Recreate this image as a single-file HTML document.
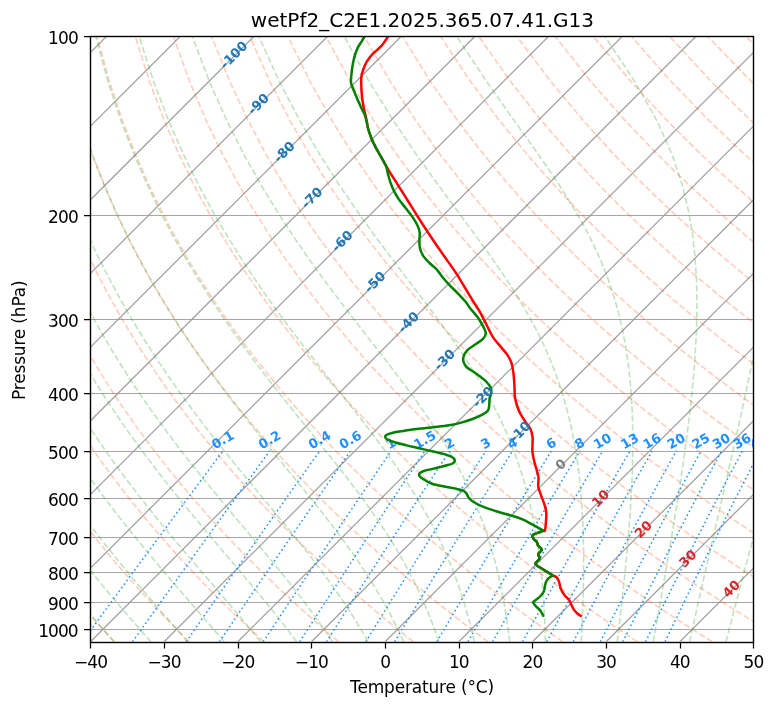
<!DOCTYPE html>
<html><head><meta charset="utf-8"><title>wetPf2_C2E1.2025.365.07.41.G13</title>
<style>html,body{margin:0;padding:0;background:#fff;width:775px;height:708px;overflow:hidden}svg{display:block}text{white-space:pre}</style>
</head><body>
<svg width="775" height="708" viewBox="0 0 775 708" style="position:absolute;left:0;top:0">
<rect width="775" height="708" fill="#fff"/>
<defs><clipPath id="c"><rect x="90.45" y="36.2" width="663.0" height="605.5999999999999"/></clipPath></defs>
<g clip-path="url(#c)" fill="none">
<path d="M90.45 36.50H753.45" stroke="#a6a6a6" stroke-width="1.1"/>
<path d="M90.45 215.50H753.45" stroke="#a6a6a6" stroke-width="1.1"/>
<path d="M90.45 319.50H753.45" stroke="#a6a6a6" stroke-width="1.1"/>
<path d="M90.45 393.50H753.45" stroke="#a6a6a6" stroke-width="1.1"/>
<path d="M90.45 451.50H753.45" stroke="#a6a6a6" stroke-width="1.1"/>
<path d="M90.45 498.50H753.45" stroke="#a6a6a6" stroke-width="1.1"/>
<path d="M90.45 537.50H753.45" stroke="#a6a6a6" stroke-width="1.1"/>
<path d="M90.45 572.50H753.45" stroke="#a6a6a6" stroke-width="1.1"/>
<path d="M90.45 602.50H753.45" stroke="#a6a6a6" stroke-width="1.1"/>
<path d="M90.45 629.50H753.45" stroke="#a6a6a6" stroke-width="1.1"/>
<path d="M-572.55 641.80 L33.05 36.20M-498.88 641.80 L106.72 36.20M-425.22 641.80 L180.38 36.20M-351.55 641.80 L254.05 36.20M-277.88 641.80 L327.72 36.20M-204.22 641.80 L401.38 36.20M-130.55 641.80 L475.05 36.20M-56.88 641.80 L548.72 36.20M16.78 641.80 L622.38 36.20M90.45 641.80 L696.05 36.20M164.12 641.80 L769.72 36.20M237.78 641.80 L843.38 36.20M311.45 641.80 L917.05 36.20M385.12 641.80 L990.72 36.20M458.78 641.80 L1064.38 36.20M532.45 641.80 L1138.05 36.20M606.12 641.80 L1211.72 36.20M679.78 641.80 L1285.38 36.20M753.45 641.80 L1359.05 36.20" stroke="#999999" stroke-width="1.3" stroke-opacity="0.9"/>
<path d="M114.56 641.80 L110.11 637.00 L105.63 632.11 L101.11 627.12 L96.56 622.04 L91.97 616.85 L87.34 611.56 L82.68 606.15 L77.98 600.63 L73.24 594.99 L68.46 589.23 L63.64 583.33 L58.78 577.29 L53.88 571.11 L48.94 564.77 L43.96 558.28 L38.93 551.61 L33.86 544.77 L28.74 537.75 L23.58 530.52 L18.37 523.09 L13.12 515.44 L7.82 507.55 L2.47 499.42 L-2.92 491.01 L-8.37 482.33 L-13.86 473.34 L-19.39 464.03 L-24.98 454.37 L-30.60 444.33 L-36.28 433.88 L-41.99 422.99 L-47.75 411.62 L-53.54 399.73 L-59.36 387.26 L-65.21 374.16 L-71.07 360.35 L-76.95 345.76 L-82.81 330.29 L-88.66 313.84 L-94.45 296.26 L-100.18 277.40 L-105.78 257.04 L-111.20 234.93 L-116.38 210.75 L-121.19 184.06 L-125.47 154.28 L-128.98 120.60 L-131.33 81.84 L-131.89 36.20M189.26 641.80 L184.41 637.00 L179.53 632.11 L174.60 627.12 L169.64 622.04 L164.63 616.85 L159.58 611.56 L154.48 606.15 L149.34 600.63 L144.16 594.99 L138.93 589.23 L133.65 583.33 L128.33 577.29 L122.95 571.11 L117.53 564.77 L112.05 558.28 L106.52 551.61 L100.94 544.77 L95.30 537.75 L89.61 530.52 L83.86 523.09 L78.05 515.44 L72.18 507.55 L66.26 499.42 L60.27 491.01 L54.22 482.33 L48.11 473.34 L41.94 464.03 L35.70 454.37 L29.40 444.33 L23.04 433.88 L16.61 422.99 L10.12 411.62 L3.57 399.73 L-3.04 387.26 L-9.70 374.16 L-16.41 360.35 L-23.16 345.76 L-29.94 330.29 L-36.74 313.84 L-43.54 296.26 L-50.31 277.40 L-57.03 257.04 L-63.64 234.93 L-70.07 210.75 L-76.23 184.06 L-81.97 154.28 L-87.08 120.60 L-91.20 81.84 L-93.74 36.20M263.96 641.80 L258.72 637.00 L253.43 632.11 L248.10 627.12 L242.72 622.04 L237.29 616.85 L231.81 611.56 L226.29 606.15 L220.71 600.63 L215.08 594.99 L209.40 589.23 L203.66 583.33 L197.87 577.29 L192.02 571.11 L186.11 564.77 L180.14 558.28 L174.11 551.61 L168.01 544.77 L161.86 537.75 L155.63 530.52 L149.34 523.09 L142.98 515.44 L136.55 507.55 L130.04 499.42 L123.47 491.01 L116.81 482.33 L110.08 473.34 L103.27 464.03 L96.38 454.37 L89.41 444.33 L82.35 433.88 L75.21 422.99 L67.99 411.62 L60.68 399.73 L53.29 387.26 L45.81 374.16 L38.26 360.35 L30.63 345.76 L22.94 330.29 L15.18 313.84 L7.38 296.26 L-0.45 277.40 L-8.28 257.04 L-16.07 234.93 L-23.76 210.75 L-31.27 184.06 L-38.48 154.28 L-45.18 120.60 L-51.06 81.84 L-55.58 36.20M338.66 641.80 L333.02 637.00 L327.33 632.11 L321.59 627.12 L315.80 622.04 L309.95 616.85 L304.05 611.56 L298.09 606.15 L292.08 600.63 L286.00 594.99 L279.87 589.23 L273.67 583.33 L267.41 577.29 L261.08 571.11 L254.69 564.77 L248.23 558.28 L241.70 551.61 L235.09 544.77 L228.41 537.75 L221.66 530.52 L214.82 523.09 L207.91 515.44 L200.91 507.55 L193.83 499.42 L186.66 491.01 L179.40 482.33 L172.05 473.34 L164.60 464.03 L157.05 454.37 L149.41 444.33 L141.66 433.88 L133.81 422.99 L125.85 411.62 L117.79 399.73 L109.61 387.26 L101.33 374.16 L92.93 360.35 L84.42 345.76 L75.81 330.29 L67.10 313.84 L58.29 296.26 L49.41 277.40 L40.47 257.04 L31.50 234.93 L22.55 210.75 L13.68 184.06 L5.02 154.28 L-3.28 120.60 L-10.92 81.84 L-17.43 36.20M413.36 641.80 L407.33 637.00 L401.24 632.11 L395.09 627.12 L388.88 622.04 L382.61 616.85 L376.29 611.56 L369.90 606.15 L363.44 600.63 L356.92 594.99 L350.34 589.23 L343.68 583.33 L336.95 577.29 L330.15 571.11 L323.27 564.77 L316.32 558.28 L309.29 551.61 L302.17 544.77 L294.97 537.75 L287.68 530.52 L280.31 523.09 L272.84 515.44 L265.28 507.55 L257.62 499.42 L249.85 491.01 L241.99 482.33 L234.01 473.34 L225.93 464.03 L217.73 454.37 L209.42 444.33 L200.98 433.88 L192.41 422.99 L183.72 411.62 L174.90 399.73 L165.94 387.26 L156.84 374.16 L147.60 360.35 L138.21 345.76 L128.68 330.29 L119.02 313.84 L109.21 296.26 L99.27 277.40 L89.21 257.04 L79.06 234.93 L68.85 210.75 L58.64 184.06 L48.51 154.28 L38.62 120.60 L29.21 81.84 L20.73 36.20M488.06 641.80 L481.63 637.00 L475.14 632.11 L468.58 627.12 L461.96 622.04 L455.28 616.85 L448.52 611.56 L441.70 606.15 L434.81 600.63 L427.84 594.99 L420.80 589.23 L413.69 583.33 L406.49 577.29 L399.22 571.11 L391.86 564.77 L384.41 558.28 L376.87 551.61 L369.25 544.77 L361.53 537.75 L353.71 530.52 L345.79 523.09 L337.77 515.44 L329.64 507.55 L321.40 499.42 L313.05 491.01 L304.58 482.33 L295.98 473.34 L287.26 464.03 L278.41 454.37 L269.42 444.33 L260.29 433.88 L251.01 422.99 L241.59 411.62 L232.00 399.73 L222.26 387.26 L212.35 374.16 L202.26 360.35 L192.00 345.76 L181.56 330.29 L170.93 313.84 L160.12 296.26 L149.13 277.40 L137.96 257.04 L126.63 234.93 L115.16 210.75 L103.60 184.06 L92.01 154.28 L80.52 120.60 L69.35 81.84 L58.88 36.20M562.76 641.80 L555.94 637.00 L549.04 632.11 L542.08 627.12 L535.04 622.04 L527.94 616.85 L520.76 611.56 L513.51 606.15 L506.18 600.63 L498.76 594.99 L491.27 589.23 L483.70 583.33 L476.03 577.29 L468.28 571.11 L460.44 564.77 L452.50 558.28 L444.46 551.61 L436.33 544.77 L428.08 537.75 L419.74 530.52 L411.28 523.09 L402.70 515.44 L394.01 507.55 L385.19 499.42 L376.24 491.01 L367.17 482.33 L357.95 473.34 L348.59 464.03 L339.09 454.37 L329.42 444.33 L319.60 433.88 L309.62 422.99 L299.45 411.62 L289.11 399.73 L278.58 387.26 L267.86 374.16 L256.93 360.35 L245.79 345.76 L234.43 330.29 L222.85 313.84 L211.04 296.26 L198.99 277.40 L186.71 257.04 L174.20 234.93 L161.47 210.75 L148.55 184.06 L135.51 154.28 L122.42 120.60 L109.49 81.84 L97.04 36.20M637.47 641.80 L630.24 637.00 L622.94 632.11 L615.57 627.12 L608.12 622.04 L600.60 616.85 L593.00 611.56 L585.31 606.15 L577.54 600.63 L569.69 594.99 L561.74 589.23 L553.71 583.33 L545.58 577.29 L537.35 571.11 L529.02 564.77 L520.59 558.28 L512.05 551.61 L503.40 544.77 L494.64 537.75 L485.76 530.52 L476.76 523.09 L467.63 515.44 L458.37 507.55 L448.97 499.42 L439.44 491.01 L429.75 482.33 L419.92 473.34 L409.92 464.03 L399.76 454.37 L389.43 444.33 L378.92 433.88 L368.22 422.99 L357.32 411.62 L346.22 399.73 L334.91 387.26 L323.37 374.16 L311.60 360.35 L299.58 345.76 L287.31 330.29 L274.77 313.84 L261.95 296.26 L248.85 277.40 L235.46 257.04 L221.76 234.93 L207.78 210.75 L193.51 184.06 L179.00 154.28 L164.32 120.60 L149.63 81.84 L135.19 36.20M712.17 641.80 L704.54 637.00 L696.84 632.11 L689.06 627.12 L681.20 622.04 L673.26 616.85 L665.23 611.56 L657.11 606.15 L648.91 600.63 L640.61 594.99 L632.21 589.23 L623.71 583.33 L615.12 577.29 L606.41 571.11 L597.60 564.77 L588.68 558.28 L579.64 551.61 L570.48 544.77 L561.20 537.75 L551.79 530.52 L542.24 523.09 L532.56 515.44 L522.74 507.55 L512.76 499.42 L502.63 491.01 L492.34 482.33 L481.89 473.34 L471.25 464.03 L460.44 454.37 L449.43 444.33 L438.23 433.88 L426.82 422.99 L415.19 411.62 L403.33 399.73 L391.23 387.26 L378.88 374.16 L366.26 360.35 L353.37 345.76 L340.18 330.29 L326.69 313.84 L312.87 296.26 L298.71 277.40 L284.20 257.04 L269.33 234.93 L254.08 210.75 L238.47 184.06 L222.50 154.28 L206.22 120.60 L189.76 81.84 L173.35 36.20M786.87 641.80 L778.85 637.00 L770.75 632.11 L762.56 627.12 L754.29 622.04 L745.92 616.85 L737.47 611.56 L728.92 606.15 L720.27 600.63 L711.53 594.99 L702.68 589.23 L693.72 583.33 L684.66 577.29 L675.48 571.11 L666.19 564.77 L656.77 558.28 L647.23 551.61 L637.56 544.77 L627.76 537.75 L617.81 530.52 L607.73 523.09 L597.49 515.44 L587.10 507.55 L576.55 499.42 L565.83 491.01 L554.93 482.33 L543.85 473.34 L532.58 464.03 L521.12 454.37 L509.44 444.33 L497.54 433.88 L485.42 422.99 L473.06 411.62 L460.44 399.73 L447.55 387.26 L434.39 374.16 L420.93 360.35 L407.16 345.76 L393.06 330.29 L378.61 313.84 L363.78 296.26 L348.57 277.40 L332.95 257.04 L316.90 234.93 L300.39 210.75 L283.42 184.06 L265.99 154.28 L248.12 120.60 L229.90 81.84 L211.51 36.20M861.57 641.80 L853.15 637.00 L844.65 632.11 L836.05 627.12 L827.37 622.04 L818.58 616.85 L809.70 611.56 L800.72 606.15 L791.64 600.63 L782.45 594.99 L773.15 589.23 L763.73 583.33 L754.20 577.29 L744.55 571.11 L734.77 564.77 L724.86 558.28 L714.82 551.61 L704.64 544.77 L694.31 537.75 L683.84 530.52 L673.21 523.09 L662.42 515.44 L651.46 507.55 L640.33 499.42 L629.02 491.01 L617.52 482.33 L605.82 473.34 L593.91 464.03 L581.79 454.37 L569.44 444.33 L556.86 433.88 L544.02 422.99 L530.92 411.62 L517.55 399.73 L503.88 387.26 L489.90 374.16 L475.60 360.35 L460.95 345.76 L445.93 330.29 L430.52 313.84 L414.70 296.26 L398.43 277.40 L381.70 257.04 L364.46 234.93 L346.70 210.75 L328.38 184.06 L309.49 154.28 L290.03 120.60 L270.04 81.84 L249.66 36.20M936.27 641.80 L927.46 637.00 L918.55 632.11 L909.55 627.12 L900.45 622.04 L891.25 616.85 L881.94 611.56 L872.53 606.15 L863.01 600.63 L853.37 594.99 L843.62 589.23 L833.74 583.33 L823.74 577.29 L813.61 571.11 L803.35 564.77 L792.95 558.28 L782.41 551.61 L771.72 544.77 L760.87 537.75 L749.86 530.52 L738.69 523.09 L727.35 515.44 L715.83 507.55 L704.12 499.42 L692.22 491.01 L680.11 482.33 L667.79 473.34 L655.25 464.03 L642.47 454.37 L629.45 444.33 L616.17 433.88 L602.62 422.99 L588.79 411.62 L574.65 399.73 L560.20 387.26 L545.41 374.16 L530.27 360.35 L514.74 345.76 L498.81 330.29 L482.44 313.84 L465.62 296.26 L448.30 277.40 L430.45 257.04 L412.03 234.93 L393.01 210.75 L373.33 184.06 L352.98 154.28 L331.93 120.60 L310.17 81.84 L287.82 36.20M1010.97 641.80 L1001.76 637.00 L992.45 632.11 L983.04 627.12 L973.53 622.04 L963.91 616.85 L954.18 611.56 L944.33 606.15 L934.37 600.63 L924.29 594.99 L914.08 589.23 L903.75 583.33 L893.28 577.29 L882.68 571.11 L871.93 564.77 L861.04 558.28 L850.00 551.61 L838.79 544.77 L827.43 537.75 L815.89 530.52 L804.18 523.09 L792.28 515.44 L780.19 507.55 L767.91 499.42 L755.41 491.01 L742.70 482.33 L729.76 473.34 L716.58 464.03 L703.15 454.37 L689.45 444.33 L675.48 433.88 L661.22 422.99 L646.66 411.62 L631.76 399.73 L616.53 387.26 L600.92 374.16 L584.93 360.35 L568.53 345.76 L551.68 330.29 L534.36 313.84 L516.53 296.26 L498.16 277.40 L479.19 257.04 L459.60 234.93 L439.31 210.75 L418.29 184.06 L396.48 154.28 L373.83 120.60 L350.31 81.84 L325.97 36.20M1085.67 641.80 L1076.06 637.00 L1066.35 632.11 L1056.54 627.12 L1046.61 622.04 L1036.57 616.85 L1026.41 611.56 L1016.14 606.15 L1005.74 600.63 L995.21 594.99 L984.55 589.23 L973.76 583.33 L962.82 577.29 L951.75 571.11 L940.52 564.77 L929.13 558.28 L917.58 551.61 L905.87 544.77 L893.98 537.75 L881.92 530.52 L869.66 523.09 L857.21 515.44 L844.56 507.55 L831.69 499.42 L818.60 491.01 L805.29 482.33 L791.72 473.34 L777.91 464.03 L763.82 454.37 L749.46 444.33 L734.80 433.88 L719.83 422.99 L704.52 411.62 L688.87 399.73 L672.85 387.26 L656.43 374.16 L639.60 360.35 L622.32 345.76 L604.55 330.29 L586.28 313.84 L567.45 296.26 L548.02 277.40 L527.94 257.04 L507.16 234.93 L485.62 210.75 L463.25 184.06 L439.97 154.28 L415.73 120.60 L390.45 81.84 L364.13 36.20M1160.37 641.80 L1150.37 637.00 L1140.26 632.11 L1130.03 627.12 L1119.69 622.04 L1109.23 616.85 L1098.65 611.56 L1087.94 606.15 L1077.10 600.63 L1066.13 594.99 L1055.02 589.23 L1043.77 583.33 L1032.37 577.29 L1020.81 571.11 L1009.10 564.77 L997.22 558.28 L985.17 551.61 L972.95 544.77 L960.54 537.75 L947.94 530.52 L935.15 523.09 L922.14 515.44 L908.92 507.55 L895.48 499.42 L881.80 491.01 L867.87 482.33 L853.69 473.34 L839.24 464.03 L824.50 454.37 L809.46 444.33 L794.11 433.88 L778.43 422.99 L762.39 411.62 L745.98 399.73 L729.17 387.26 L711.95 374.16 L694.27 360.35 L676.11 345.76 L657.43 330.29 L638.20 313.84 L618.36 296.26 L597.88 277.40 L576.69 257.04 L554.73 234.93 L531.93 210.75 L508.20 184.06 L483.47 154.28 L457.63 120.60 L430.59 81.84 L402.28 36.20M1235.07 641.80 L1224.67 637.00 L1214.16 632.11 L1203.52 627.12 L1192.77 622.04 L1181.89 616.85 L1170.89 611.56 L1159.75 606.15 L1148.47 600.63 L1137.05 594.99 L1125.49 589.23 L1113.78 583.33 L1101.91 577.29 L1089.88 571.11 L1077.68 564.77 L1065.31 558.28 L1052.76 551.61 L1040.03 544.77 L1027.10 537.75 L1013.97 530.52 L1000.63 523.09 L987.07 515.44 L973.29 507.55 L959.26 499.42 L944.99 491.01 L930.46 482.33 L915.66 473.34 L900.57 464.03 L885.18 454.37 L869.47 444.33 L853.42 433.88 L837.03 422.99 L820.26 411.62 L803.09 399.73 L785.50 387.26 L767.46 374.16 L748.93 360.35 L729.90 345.76 L710.30 330.29 L690.11 313.84 L669.28 296.26 L647.74 277.40 L625.44 257.04 L602.30 234.93 L578.24 210.75 L553.16 184.06 L526.96 154.28 L499.53 120.60 L470.72 81.84 L440.44 36.20M1309.77 641.80 L1298.98 637.00 L1288.06 632.11 L1277.02 627.12 L1265.85 622.04 L1254.55 616.85 L1243.12 611.56 L1231.55 606.15 L1219.84 600.63 L1207.97 594.99 L1195.96 589.23 L1183.79 583.33 L1171.45 577.29 L1158.94 571.11 L1146.26 564.77 L1133.40 558.28 L1120.35 551.61 L1107.10 544.77 L1093.66 537.75 L1079.99 530.52 L1066.11 523.09 L1052.00 515.44 L1037.65 507.55 L1023.05 499.42 L1008.19 491.01 L993.05 482.33 L977.63 473.34 L961.90 464.03 L945.85 454.37 L929.47 444.33 L912.74 433.88 L895.63 422.99 L878.12 411.62 L860.20 399.73 L841.82 387.26 L822.97 374.16 L803.60 360.35 L783.69 345.76 L763.18 330.29 L742.03 313.84 L720.19 296.26 L697.60 277.40 L674.18 257.04 L649.86 234.93 L624.54 210.75 L598.12 184.06 L570.46 154.28 L541.43 120.60 L510.86 81.84 L478.59 36.20M1384.47 641.80 L1373.28 637.00 L1361.96 632.11 L1350.51 627.12 L1338.93 622.04 L1327.22 616.85 L1315.36 611.56 L1303.36 606.15 L1291.20 600.63 L1278.89 594.99 L1266.43 589.23 L1253.79 583.33 L1240.99 577.29 L1228.01 571.11 L1214.85 564.77 L1201.49 558.28 L1187.94 551.61 L1174.18 544.77 L1160.21 537.75 L1146.02 530.52 L1131.60 523.09 L1116.93 515.44 L1102.02 507.55 L1086.84 499.42 L1071.38 491.01 L1055.64 482.33 L1039.59 473.34 L1023.23 464.03 L1006.53 454.37 L989.48 444.33 L972.05 433.88 L954.23 422.99 L935.99 411.62 L917.30 399.73 L898.14 387.26 L878.48 374.16 L858.27 360.35 L837.47 345.76 L816.05 330.29 L793.95 313.84 L771.11 296.26 L747.46 277.40 L722.93 257.04 L697.43 234.93 L670.85 210.75 L643.07 184.06 L613.96 154.28 L583.33 120.60 L551.00 81.84 L516.75 36.20M1459.17 641.80 L1447.58 637.00 L1435.86 632.11 L1424.01 627.12 L1412.01 622.04 L1399.88 616.85 L1387.59 611.56 L1375.16 606.15 L1362.57 600.63 L1349.82 594.99 L1336.90 589.23 L1323.80 583.33 L1310.53 577.29 L1297.08 571.11 L1283.43 564.77 L1269.58 558.28 L1255.53 551.61 L1241.26 544.77 L1226.77 537.75 L1212.05 530.52 L1197.08 523.09 L1181.86 515.44 L1166.38 507.55 L1150.62 499.42 L1134.58 491.01 L1118.23 482.33 L1101.56 473.34 L1084.56 464.03 L1067.21 454.37 L1049.48 444.33 L1031.36 433.88 L1012.83 422.99 L993.86 411.62 L974.41 399.73 L954.47 387.26 L933.99 374.16 L912.94 360.35 L891.26 345.76 L868.93 330.29 L845.87 313.84 L822.02 296.26 L797.32 277.40 L771.68 257.04 L745.00 234.93 L717.16 210.75 L688.03 184.06 L657.45 154.28 L625.23 120.60 L591.13 81.84 L554.90 36.20M1533.87 641.80 L1521.89 637.00 L1509.76 632.11 L1497.50 627.12 L1485.09 622.04 L1472.54 616.85 L1459.83 611.56 L1446.96 606.15 L1433.93 600.63 L1420.74 594.99 L1407.36 589.23 L1393.81 583.33 L1380.07 577.29 L1366.14 571.11 L1352.01 564.77 L1337.67 558.28 L1323.12 551.61 L1308.34 544.77 L1293.33 537.75 L1278.07 530.52 L1262.56 523.09 L1246.79 515.44 L1230.75 507.55 L1214.41 499.42 L1197.77 491.01 L1180.82 482.33 L1163.53 473.34 L1145.89 464.03 L1127.88 454.37 L1109.49 444.33 L1090.68 433.88 L1071.43 422.99 L1051.72 411.62 L1031.52 399.73 L1010.79 387.26 L989.50 374.16 L967.60 360.35 L945.05 345.76 L921.80 330.29 L897.79 313.84 L872.94 296.26 L847.18 277.40 L820.43 257.04 L792.56 234.93 L763.47 210.75 L732.99 184.06 L700.95 154.28 L667.13 120.60 L631.27 81.84 L593.06 36.20M1608.58 641.80 L1596.19 637.00 L1583.67 632.11 L1571.00 627.12 L1558.18 622.04 L1545.20 616.85 L1532.07 611.56 L1518.77 606.15 L1505.30 600.63 L1491.66 594.99 L1477.83 589.23 L1463.82 583.33 L1449.62 577.29 L1435.21 571.11 L1420.59 564.77 L1405.76 558.28 L1390.71 551.61 L1375.42 544.77 L1359.88 537.75 L1344.10 530.52 L1328.05 523.09 L1311.72 515.44 L1295.11 507.55 L1278.20 499.42 L1260.97 491.01 L1243.41 482.33 L1225.50 473.34 L1207.22 464.03 L1188.56 454.37 L1169.49 444.33 L1149.99 433.88 L1130.03 422.99 L1109.59 411.62 L1088.63 399.73 L1067.12 387.26 L1045.01 374.16 L1022.27 360.35 L998.84 345.76 L974.68 330.29 L949.70 313.84 L923.86 296.26 L897.04 277.40 L869.17 257.04 L840.13 234.93 L809.77 210.75 L777.94 184.06 L744.44 154.28 L709.03 120.60 L671.41 81.84 L631.22 36.20M1683.28 641.80 L1670.50 637.00 L1657.57 632.11 L1644.49 627.12 L1631.26 622.04 L1617.86 616.85 L1604.30 611.56 L1590.57 606.15 L1576.67 600.63 L1562.58 594.99 L1548.30 589.23 L1533.83 583.33 L1519.16 577.29 L1504.27 571.11 L1489.18 564.77 L1473.85 558.28 L1458.29 551.61 L1442.49 544.77 L1426.44 537.75 L1410.12 530.52 L1393.53 523.09 L1376.65 515.44 L1359.47 507.55 L1341.98 499.42 L1324.16 491.01 L1305.99 482.33 L1287.46 473.34 L1268.55 464.03 L1249.24 454.37 L1229.50 444.33 L1209.30 433.88 L1188.64 422.99 L1167.46 411.62 L1145.74 399.73 L1123.44 387.26 L1100.52 374.16 L1076.94 360.35 L1052.63 345.76 L1027.55 330.29 L1001.62 313.84 L974.77 296.26 L946.91 277.40 L917.92 257.04 L887.70 234.93 L856.08 210.75 L822.90 184.06 L787.94 154.28 L750.93 120.60 L711.54 81.84 L669.37 36.20M1757.98 641.80 L1744.80 637.00 L1731.47 632.11 L1717.99 627.12 L1704.34 622.04 L1690.52 616.85 L1676.54 611.56 L1662.38 606.15 L1648.03 600.63 L1633.50 594.99 L1618.77 589.23 L1603.84 583.33 L1588.70 577.29 L1573.34 571.11 L1557.76 564.77 L1541.94 558.28 L1525.88 551.61 L1509.57 544.77 L1493.00 537.75 L1476.15 530.52 L1459.02 523.09 L1441.58 515.44 L1423.84 507.55 L1405.77 499.42 L1387.35 491.01 L1368.58 482.33 L1349.43 473.34 L1329.88 464.03 L1309.91 454.37 L1289.50 444.33 L1268.62 433.88 L1247.24 422.99 L1225.32 411.62 L1202.85 399.73 L1179.76 387.26 L1156.03 374.16 L1131.60 360.35 L1106.42 345.76 L1080.43 330.29 L1053.54 313.84 L1025.69 296.26 L996.77 277.40 L966.67 257.04 L935.26 234.93 L902.39 210.75 L867.86 184.06 L831.43 154.28 L792.83 120.60 L751.68 81.84 L707.53 36.20M1832.68 641.80 L1819.10 637.00 L1805.37 632.11 L1791.48 627.12 L1777.42 622.04 L1763.19 616.85 L1748.78 611.56 L1734.18 606.15 L1719.40 600.63 L1704.42 594.99 L1689.24 589.23 L1673.85 583.33 L1658.24 577.29 L1642.41 571.11 L1626.34 564.77 L1610.03 558.28 L1593.47 551.61 L1576.65 544.77 L1559.55 537.75 L1542.18 530.52 L1524.50 523.09 L1506.51 515.44 L1488.20 507.55 L1469.55 499.42 L1450.55 491.01 L1431.17 482.33 L1411.40 473.34 L1391.21 464.03 L1370.59 454.37 L1349.51 444.33 L1327.93 433.88 L1305.84 422.99 L1283.19 411.62 L1259.95 399.73 L1236.09 387.26 L1211.54 374.16 L1186.27 360.35 L1160.21 345.76 L1133.30 330.29 L1105.46 313.84 L1076.60 296.26 L1046.63 277.40 L1015.42 257.04 L982.83 234.93 L948.70 210.75 L912.81 184.06 L874.93 154.28 L834.73 120.60 L791.82 81.84 L745.68 36.20M1907.38 641.80 L1893.41 637.00 L1879.27 632.11 L1864.97 627.12 L1850.50 622.04 L1835.85 616.85 L1821.01 611.56 L1805.99 606.15 L1790.77 600.63 L1775.34 594.99 L1759.71 589.23 L1743.86 583.33 L1727.78 577.29 L1711.47 571.11 L1694.92 564.77 L1678.12 558.28 L1661.06 551.61 L1643.73 544.77 L1626.11 537.75 L1608.20 530.52 L1589.98 523.09 L1571.44 515.44 L1552.57 507.55 L1533.34 499.42 L1513.74 491.01 L1493.76 482.33 L1473.37 473.34 L1452.54 464.03 L1431.27 454.37 L1409.51 444.33 L1387.25 433.88 L1364.44 422.99 L1341.06 411.62 L1317.06 399.73 L1292.41 387.26 L1267.05 374.16 L1240.94 360.35 L1214.00 345.76 L1186.17 330.29 L1157.38 313.84 L1127.52 296.26 L1096.49 277.40 L1064.16 257.04 L1030.40 234.93 L995.00 210.75 L957.77 184.06 L918.42 154.28 L876.63 120.60 L831.96 81.84 L783.84 36.20M1982.08 641.80 L1967.71 637.00 L1953.18 632.11 L1938.47 627.12 L1923.58 622.04 L1908.51 616.85 L1893.25 611.56 L1877.79 606.15 L1862.13 600.63 L1846.26 594.99 L1830.18 589.23 L1813.87 583.33 L1797.32 577.29 L1780.54 571.11 L1763.51 564.77 L1746.21 558.28 L1728.65 551.61 L1710.81 544.77 L1692.67 537.75 L1674.23 530.52 L1655.47 523.09 L1636.37 515.44 L1616.93 507.55 L1597.13 499.42 L1576.94 491.01 L1556.35 482.33 L1535.33 473.34 L1513.87 464.03 L1491.94 454.37 L1469.52 444.33 L1446.56 433.88 L1423.04 422.99 L1398.93 411.62 L1374.17 399.73 L1348.74 387.26 L1322.57 374.16 L1295.61 360.35 L1267.79 345.76 L1239.05 330.29 L1209.29 313.84 L1178.43 296.26 L1146.35 277.40 L1112.91 257.04 L1077.96 234.93 L1041.31 210.75 L1002.72 184.06 L961.92 154.28 L918.53 120.60 L872.09 81.84 L821.99 36.20M2056.78 641.80 L2042.02 637.00 L2027.08 632.11 L2011.96 627.12 L1996.66 622.04 L1981.17 616.85 L1965.48 611.56 L1949.60 606.15 L1933.50 600.63 L1917.18 594.99 L1900.64 589.23 L1883.87 583.33 L1866.86 577.29 L1849.61 571.11 L1832.09 564.77 L1814.30 558.28 L1796.24 551.61 L1777.88 544.77 L1759.23 537.75 L1740.25 530.52 L1720.95 523.09 L1701.30 515.44 L1681.30 507.55 L1660.91 499.42 L1640.13 491.01 L1618.94 482.33 L1597.30 473.34 L1575.21 464.03 L1552.62 454.37 L1529.52 444.33 L1505.87 433.88 L1481.64 422.99 L1456.79 411.62 L1431.28 399.73 L1405.06 387.26 L1378.08 374.16 L1350.27 360.35 L1321.58 345.76 L1291.92 330.29 L1261.21 313.84 L1229.35 296.26 L1196.21 277.40 L1161.66 257.04 L1125.53 234.93 L1087.62 210.75 L1047.68 184.06 L1005.41 154.28 L960.43 120.60 L912.23 81.84 L860.15 36.20M2131.48 641.80 L2116.32 637.00 L2100.98 632.11 L2085.46 627.12 L2069.74 622.04 L2053.83 616.85 L2037.72 611.56 L2021.40 606.15 L2004.86 600.63 L1988.10 594.99 L1971.11 589.23 L1953.88 583.33 L1936.41 577.29 L1918.67 571.11 L1900.67 564.77 L1882.39 558.28 L1863.83 551.61 L1844.96 544.77 L1825.78 537.75 L1806.28 530.52 L1786.43 523.09 L1766.23 515.44 L1745.66 507.55 L1724.70 499.42 L1703.33 491.01 L1681.53 482.33 L1659.27 473.34 L1636.54 464.03 L1613.30 454.37 L1589.52 444.33 L1565.19 433.88 L1540.24 422.99 L1514.66 411.62 L1488.39 399.73 L1461.38 387.26 L1433.59 374.16 L1404.94 360.35 L1375.37 345.76 L1344.80 330.29 L1313.13 313.84 L1280.26 296.26 L1246.07 277.40 L1210.41 257.04 L1173.10 234.93 L1133.93 210.75 L1092.64 184.06 L1048.91 154.28 L1002.33 120.60 L952.37 81.84 L898.30 36.20M2206.18 641.80 L2190.62 637.00 L2174.88 632.11 L2158.95 627.12 L2142.82 622.04 L2126.49 616.85 L2109.96 611.56 L2093.20 606.15 L2076.23 600.63 L2059.02 594.99 L2041.58 589.23 L2023.89 583.33 L2005.95 577.29 L1987.74 571.11 L1969.25 564.77 L1950.48 558.28 L1931.42 551.61 L1912.04 544.77 L1892.34 537.75 L1872.30 530.52 L1851.92 523.09 L1831.16 515.44 L1810.03 507.55 L1788.49 499.42 L1766.52 491.01 L1744.11 482.33 L1721.24 473.34 L1697.87 464.03 L1673.97 454.37 L1649.53 444.33 L1624.50 433.88 L1598.84 422.99 L1572.53 411.62 L1545.50 399.73 L1517.71 387.26 L1489.10 374.16 L1459.61 360.35 L1429.16 345.76 L1397.67 330.29 L1365.05 313.84 L1331.18 296.26 L1295.93 277.40 L1259.15 257.04 L1220.66 234.93 L1180.23 210.75 L1137.59 184.06 L1092.41 154.28 L1044.23 120.60 L992.50 81.84 L936.46 36.20M2280.88 641.80 L2264.93 637.00 L2248.78 632.11 L2232.45 627.12 L2215.90 622.04 L2199.16 616.85 L2182.19 611.56 L2165.01 606.15 L2147.60 600.63 L2129.95 594.99 L2112.05 589.23 L2093.90 583.33 L2075.49 577.29 L2056.80 571.11 L2037.84 564.77 L2018.57 558.28 L1999.00 551.61 L1979.12 544.77 L1958.90 537.75 L1938.33 530.52 L1917.40 523.09 L1896.09 515.44 L1874.39 507.55 L1852.27 499.42 L1829.72 491.01 L1806.70 482.33 L1783.20 473.34 L1759.20 464.03 L1734.65 454.37 L1709.53 444.33 L1683.81 433.88 L1657.45 422.99 L1630.39 411.62 L1602.60 399.73 L1574.03 387.26 L1544.61 374.16 L1514.27 360.35 L1482.95 345.76 L1450.55 330.29 L1416.97 313.84 L1382.09 296.26 L1345.79 277.40 L1307.90 257.04 L1268.23 234.93 L1226.54 210.75 L1182.55 184.06 L1135.90 154.28 L1086.13 120.60 L1032.64 81.84 L974.61 36.20" stroke="#ff4500" stroke-width="1.6" stroke-opacity="0.27" stroke-dasharray="6.17 2.67"/>
<path d="M113.90 641.80 L109.72 637.00 L105.49 632.11 L101.20 627.12 L96.86 622.04 L92.47 616.85 L88.01 611.56 L83.51 606.15 L78.95 600.63 L74.34 594.99 L69.67 589.23 L64.95 583.33 L60.18 577.29 L55.35 571.11 L50.48 564.77 L45.55 558.28 L40.57 551.61 L35.53 544.77 L30.44 537.75 L25.31 530.52 L20.12 523.09 L14.87 515.44 L9.58 507.55 L4.24 499.42 L-1.16 491.01 L-6.61 482.33 L-12.10 473.34 L-17.65 464.03 L-23.25 454.37 L-28.89 444.33 L-34.58 433.88 L-40.31 422.99 L-46.08 411.62 L-51.89 399.73 L-57.74 387.26 L-63.61 374.16 L-69.50 360.35 L-75.40 345.76 L-81.29 330.29 L-87.16 313.84 L-92.99 296.26 L-98.74 277.40 L-104.37 257.04 L-109.83 234.93 L-115.04 210.75 L-119.89 184.06 L-124.21 154.28 L-127.77 120.60 L-130.18 81.84 L-130.79 36.20M150.86 641.80 L146.65 637.00 L142.36 632.11 L138.01 627.12 L133.59 622.04 L129.10 616.85 L124.54 611.56 L119.92 606.15 L115.24 600.63 L110.48 594.99 L105.67 589.23 L100.78 583.33 L95.84 577.29 L90.83 571.11 L85.76 564.77 L80.62 558.28 L75.42 551.61 L70.16 544.77 L64.84 537.75 L59.45 530.52 L54.01 523.09 L48.50 515.44 L42.93 507.55 L37.30 499.42 L31.61 491.01 L25.86 482.33 L20.05 473.34 L14.18 464.03 L8.25 454.37 L2.27 444.33 L-3.78 433.88 L-9.88 422.99 L-16.03 411.62 L-22.23 399.73 L-28.48 387.26 L-34.77 374.16 L-41.10 360.35 L-47.46 345.76 L-53.82 330.29 L-60.19 313.84 L-66.54 296.26 L-72.84 277.40 L-79.05 257.04 L-85.12 234.93 L-90.99 210.75 L-96.54 184.06 L-101.62 154.28 L-106.01 120.60 L-109.33 81.84 L-110.97 36.20M187.66 641.80 L183.47 637.00 L179.20 632.11 L174.84 627.12 L170.40 622.04 L165.88 616.85 L161.27 611.56 L156.59 606.15 L151.82 600.63 L146.97 594.99 L142.05 589.23 L137.04 583.33 L131.96 577.29 L126.80 571.11 L121.56 564.77 L116.24 558.28 L110.85 551.61 L105.38 544.77 L99.84 537.75 L94.23 530.52 L88.54 523.09 L82.78 515.44 L76.94 507.55 L71.03 499.42 L65.05 491.01 L59.00 482.33 L52.88 473.34 L46.68 464.03 L40.42 454.37 L34.08 444.33 L27.68 433.88 L21.21 422.99 L14.67 411.62 L8.07 399.73 L1.40 387.26 L-5.32 374.16 L-12.09 360.35 L-18.91 345.76 L-25.76 330.29 L-32.64 313.84 L-39.52 296.26 L-46.38 277.40 L-53.18 257.04 L-59.88 234.93 L-66.41 210.75 L-72.68 184.06 L-78.54 154.28 L-83.77 120.60 L-88.03 81.84 L-90.73 36.20M224.25 641.80 L220.16 637.00 L215.98 632.11 L211.70 627.12 L207.32 622.04 L202.84 616.85 L198.27 611.56 L193.59 606.15 L188.81 600.63 L183.94 594.99 L178.96 589.23 L173.89 583.33 L168.72 577.29 L163.46 571.11 L158.10 564.77 L152.64 558.28 L147.10 551.61 L141.46 544.77 L135.73 537.75 L129.90 530.52 L123.99 523.09 L117.99 515.44 L111.90 507.55 L105.73 499.42 L99.47 491.01 L93.12 482.33 L86.68 473.34 L80.17 464.03 L73.56 454.37 L66.88 444.33 L60.11 433.88 L53.26 422.99 L46.32 411.62 L39.31 399.73 L32.22 387.26 L25.06 374.16 L17.83 360.35 L10.53 345.76 L3.18 330.29 L-4.22 313.84 L-11.65 296.26 L-19.08 277.40 L-26.50 257.04 L-33.84 234.93 L-41.07 210.75 L-48.07 184.06 L-54.73 154.28 L-60.83 120.60 L-66.06 81.84 L-69.84 36.20M260.58 641.80 L256.70 637.00 L252.71 632.11 L248.61 627.12 L244.39 622.04 L240.05 616.85 L235.59 611.56 L231.02 606.15 L226.32 600.63 L221.50 594.99 L216.57 589.23 L211.51 583.33 L206.34 577.29 L201.05 571.11 L195.64 564.77 L190.11 558.28 L184.46 551.61 L178.70 544.77 L172.83 537.75 L166.84 530.52 L160.74 523.09 L154.54 515.44 L148.22 507.55 L141.80 499.42 L135.27 491.01 L128.64 482.33 L121.90 473.34 L115.07 464.03 L108.13 454.37 L101.09 444.33 L93.94 433.88 L86.71 422.99 L79.37 411.62 L71.93 399.73 L64.40 387.26 L56.78 374.16 L49.07 360.35 L41.28 345.76 L33.40 330.29 L25.46 313.84 L17.46 296.26 L9.42 277.40 L1.37 257.04 L-6.65 234.93 L-14.59 210.75 L-22.37 184.06 L-29.86 154.28 L-36.88 120.60 L-43.11 81.84 L-48.03 36.20M296.65 641.80 L293.08 637.00 L289.38 632.11 L285.56 627.12 L281.61 622.04 L277.52 616.85 L273.30 611.56 L268.94 606.15 L264.45 600.63 L259.81 594.99 L255.03 589.23 L250.10 583.33 L245.03 577.29 L239.82 571.11 L234.45 564.77 L228.95 558.28 L223.30 551.61 L217.50 544.77 L211.56 537.75 L205.48 530.52 L199.26 523.09 L192.90 515.44 L186.41 507.55 L179.78 499.42 L173.02 491.01 L166.13 482.33 L159.11 473.34 L151.96 464.03 L144.69 454.37 L137.30 444.33 L129.78 433.88 L122.15 422.99 L114.40 411.62 L106.52 399.73 L98.54 387.26 L90.43 374.16 L82.22 360.35 L73.90 345.76 L65.47 330.29 L56.95 313.84 L48.35 296.26 L39.67 277.40 L30.95 257.04 L22.21 234.93 L13.50 210.75 L4.91 184.06 L-3.47 154.28 L-11.46 120.60 L-18.76 81.84 L-24.88 36.20M332.46 641.80 L329.29 637.00 L325.99 632.11 L322.55 627.12 L318.99 622.04 L315.28 616.85 L311.42 611.56 L307.41 606.15 L303.25 600.63 L298.93 594.99 L294.45 589.23 L289.79 583.33 L284.97 577.29 L279.98 571.11 L274.81 564.77 L269.46 558.28 L263.94 551.61 L258.24 544.77 L252.36 537.75 L246.30 530.52 L240.06 523.09 L233.65 515.44 L227.06 507.55 L220.30 499.42 L213.38 491.01 L206.28 482.33 L199.02 473.34 L191.61 464.03 L184.03 454.37 L176.30 444.33 L168.42 433.88 L160.38 422.99 L152.21 411.62 L143.88 399.73 L135.41 387.26 L126.80 374.16 L118.05 360.35 L109.17 345.76 L100.16 330.29 L91.01 313.84 L81.75 296.26 L72.39 277.40 L62.94 257.04 L53.42 234.93 L43.89 210.75 L34.41 184.06 L25.07 154.28 L16.04 120.60 L7.58 81.84 L0.16 36.20M368.05 641.80 L365.36 637.00 L362.54 632.11 L359.59 627.12 L356.51 622.04 L353.29 616.85 L349.92 611.56 L346.40 606.15 L342.71 600.63 L338.86 594.99 L334.83 589.23 L330.63 583.33 L326.23 577.29 L321.64 571.11 L316.85 564.77 L311.85 558.28 L306.64 551.61 L301.22 544.77 L295.58 537.75 L289.72 530.52 L283.64 523.09 L277.34 515.44 L270.81 507.55 L264.06 499.42 L257.10 491.01 L249.91 482.33 L242.51 473.34 L234.90 464.03 L227.08 454.37 L219.07 444.33 L210.85 433.88 L202.44 422.99 L193.84 411.62 L185.06 399.73 L176.09 387.26 L166.95 374.16 L157.63 360.35 L148.14 345.76 L138.48 330.29 L128.66 313.84 L118.68 296.26 L108.56 277.40 L98.30 257.04 L87.94 234.93 L77.49 210.75 L67.03 184.06 L56.63 154.28 L46.44 120.60 L36.71 81.84 L27.85 36.20M403.50 641.80 L401.33 637.00 L399.05 632.11 L396.66 627.12 L394.15 622.04 L391.50 616.85 L388.72 611.56 L385.80 606.15 L382.72 600.63 L379.47 594.99 L376.06 589.23 L372.46 583.33 L368.67 577.29 L364.68 571.11 L360.48 564.77 L356.05 558.28 L351.40 551.61 L346.50 544.77 L341.36 537.75 L335.96 530.52 L330.29 523.09 L324.35 515.44 L318.13 507.55 L311.64 499.42 L304.86 491.01 L297.79 482.33 L290.44 473.34 L282.82 464.03 L274.91 454.37 L266.73 444.33 L258.28 433.88 L249.57 422.99 L240.61 411.62 L231.40 399.73 L221.94 387.26 L212.25 374.16 L202.34 360.35 L192.20 345.76 L181.84 330.29 L171.27 313.84 L160.49 296.26 L149.52 277.40 L138.36 257.04 L127.03 234.93 L115.55 210.75 L103.98 184.06 L92.38 154.28 L80.88 120.60 L69.69 81.84 L59.21 36.20M438.87 641.80 L437.26 637.00 L435.55 632.11 L433.74 627.12 L431.84 622.04 L429.82 616.85 L427.69 611.56 L425.44 606.15 L423.04 600.63 L420.51 594.99 L417.82 589.23 L414.97 583.33 L411.94 577.29 L408.72 571.11 L405.31 564.77 L401.68 558.28 L397.81 551.61 L393.71 544.77 L389.35 537.75 L384.71 530.52 L379.79 523.09 L374.56 515.44 L369.01 507.55 L363.13 499.42 L356.91 491.01 L350.33 482.33 L343.40 473.34 L336.09 464.03 L328.41 454.37 L320.35 444.33 L311.92 433.88 L303.13 422.99 L293.98 411.62 L284.47 399.73 L274.63 387.26 L264.45 374.16 L253.96 360.35 L243.16 345.76 L232.06 330.29 L220.67 313.84 L209.00 296.26 L197.06 277.40 L184.87 257.04 L172.42 234.93 L159.76 210.75 L146.90 184.06 L133.91 154.28 L120.89 120.60 L108.02 81.84 L95.64 36.20M474.27 641.80 L473.19 637.00 L472.05 632.11 L470.83 627.12 L469.53 622.04 L468.15 616.85 L466.68 611.56 L465.11 606.15 L463.44 600.63 L461.66 594.99 L459.75 589.23 L457.71 583.33 L455.53 577.29 L453.19 571.11 L450.69 564.77 L448.00 558.28 L445.11 551.61 L442.01 544.77 L438.67 537.75 L435.08 530.52 L431.22 523.09 L427.06 515.44 L422.59 507.55 L417.77 499.42 L412.58 491.01 L407.00 482.33 L401.00 473.34 L394.57 464.03 L387.67 454.37 L380.29 444.33 L372.42 433.88 L364.04 422.99 L355.15 411.62 L345.75 399.73 L335.84 387.26 L325.44 374.16 L314.57 360.35 L303.22 345.76 L291.44 330.29 L279.22 313.84 L266.61 296.26 L253.60 277.40 L240.23 257.04 L226.49 234.93 L212.42 210.75 L198.04 184.06 L183.40 154.28 L168.57 120.60 L153.69 81.84 L139.06 36.20M509.76 641.80 L509.19 637.00 L508.56 632.11 L507.89 627.12 L507.17 622.04 L506.40 616.85 L505.56 611.56 L504.65 606.15 L503.67 600.63 L502.62 594.99 L501.48 589.23 L500.24 583.33 L498.90 577.29 L497.45 571.11 L495.88 564.77 L494.18 558.28 L492.32 551.61 L490.31 544.77 L488.11 537.75 L485.72 530.52 L483.10 523.09 L480.25 515.44 L477.13 507.55 L473.72 499.42 L469.98 491.01 L465.89 482.33 L461.40 473.34 L456.47 464.03 L451.07 454.37 L445.15 444.33 L438.67 433.88 L431.58 422.99 L423.84 411.62 L415.42 399.73 L406.28 387.26 L396.42 374.16 L385.82 360.35 L374.48 345.76 L362.42 330.29 L349.67 313.84 L336.26 296.26 L322.23 277.40 L307.60 257.04 L292.42 234.93 L276.72 210.75 L260.53 184.06 L243.88 154.28 L226.84 120.60 L209.52 81.84 L192.14 36.20M545.39 641.80 L545.27 637.00 L545.11 632.11 L544.94 627.12 L544.73 622.04 L544.50 616.85 L544.22 611.56 L543.91 606.15 L543.56 600.63 L543.17 594.99 L542.72 589.23 L542.22 583.33 L541.65 577.29 L541.02 571.11 L540.31 564.77 L539.52 558.28 L538.64 551.61 L537.65 544.77 L536.56 537.75 L535.33 530.52 L533.96 523.09 L532.43 515.44 L530.72 507.55 L528.80 499.42 L526.66 491.01 L524.26 482.33 L521.56 473.34 L518.54 464.03 L515.13 454.37 L511.30 444.33 L506.98 433.88 L502.10 422.99 L496.60 411.62 L490.40 399.73 L483.40 387.26 L475.53 374.16 L466.70 360.35 L456.83 345.76 L445.87 330.29 L433.76 313.84 L420.52 296.26 L406.14 277.40 L390.70 257.04 L374.24 234.93 L356.85 210.75 L338.61 184.06 L319.59 154.28 L299.85 120.60 L279.49 81.84 L258.66 36.20M581.19 641.80 L581.45 637.00 L581.70 632.11 L581.95 627.12 L582.19 622.04 L582.42 616.85 L582.63 611.56 L582.83 606.15 L583.02 600.63 L583.18 594.99 L583.33 589.23 L583.45 583.33 L583.55 577.29 L583.61 571.11 L583.65 564.77 L583.64 558.28 L583.59 551.61 L583.49 544.77 L583.34 537.75 L583.12 530.52 L582.83 523.09 L582.46 515.44 L582.00 507.55 L581.43 499.42 L580.73 491.01 L579.89 482.33 L578.88 473.34 L577.69 464.03 L576.27 454.37 L574.59 444.33 L572.61 433.88 L570.27 422.99 L567.50 411.62 L564.24 399.73 L560.39 387.26 L555.84 374.16 L550.46 360.35 L544.09 345.76 L536.57 330.29 L527.69 313.84 L517.27 296.26 L505.12 277.40 L491.10 257.04 L475.14 234.93 L457.25 210.75 L437.55 184.06 L416.20 154.28 L393.39 120.60 L369.31 81.84 L344.12 36.20M617.15 641.80 L617.74 637.00 L618.34 632.11 L618.94 627.12 L619.54 622.04 L620.15 616.85 L620.77 611.56 L621.39 606.15 L622.01 600.63 L622.64 594.99 L623.27 589.23 L623.90 583.33 L624.53 577.29 L625.16 571.11 L625.79 564.77 L626.42 558.28 L627.04 551.61 L627.66 544.77 L628.26 537.75 L628.85 530.52 L629.43 523.09 L629.98 515.44 L630.51 507.55 L631.01 499.42 L631.46 491.01 L631.87 482.33 L632.22 473.34 L632.50 464.03 L632.70 454.37 L632.79 444.33 L632.76 433.88 L632.57 422.99 L632.20 411.62 L631.59 399.73 L630.70 387.26 L629.46 374.16 L627.78 360.35 L625.55 345.76 L622.62 330.29 L618.82 313.84 L613.88 296.26 L607.51 277.40 L599.29 257.04 L588.77 234.93 L575.39 210.75 L558.67 184.06 L538.28 154.28 L514.21 120.60 L486.80 81.84 L456.59 36.20M653.29 641.80 L654.14 637.00 L655.01 632.11 L655.89 627.12 L656.79 622.04 L657.71 616.85 L658.64 611.56 L659.60 606.15 L660.57 600.63 L661.56 594.99 L662.57 589.23 L663.60 583.33 L664.65 577.29 L665.73 571.11 L666.82 564.77 L667.94 558.28 L669.08 551.61 L670.24 544.77 L671.42 537.75 L672.63 530.52 L673.85 523.09 L675.10 515.44 L676.37 507.55 L677.67 499.42 L678.98 491.01 L680.31 482.33 L681.66 473.34 L683.02 464.03 L684.40 454.37 L685.78 444.33 L687.15 433.88 L688.52 422.99 L689.88 411.62 L691.20 399.73 L692.47 387.26 L693.67 374.16 L694.75 360.35 L695.69 345.76 L696.42 330.29 L696.86 313.84 L696.90 296.26 L696.37 277.40 L695.05 257.04 L692.60 234.93 L688.50 210.75 L682.01 184.06 L672.00 154.28 L656.92 120.60 L634.96 81.84 L604.85 36.20M689.57 641.80 L690.63 637.00 L691.71 632.11 L692.82 627.12 L693.95 622.04 L695.10 616.85 L696.29 611.56 L697.50 606.15 L698.74 600.63 L700.01 594.99 L701.31 589.23 L702.64 583.33 L704.01 577.29 L705.42 571.11 L706.86 564.77 L708.34 558.28 L709.87 551.61 L711.44 544.77 L713.05 537.75 L714.71 530.52 L716.42 523.09 L718.18 515.44 L719.99 507.55 L721.85 499.42 L723.77 491.01 L725.76 482.33 L727.81 473.34 L729.93 464.03 L732.12 454.37 L734.38 444.33 L736.72 433.88 L739.15 422.99 L741.66 411.62 L744.26 399.73 L746.95 387.26 L749.73 374.16 L752.61 360.35 L755.58 345.76 L758.63 330.29 L761.77 313.84 L764.96 296.26 L768.19 277.40 L771.39 257.04 L774.49 234.93 L777.34 210.75 L779.71 184.06 L781.16 154.28 L780.90 120.60 L777.43 81.84 L767.73 36.20M725.99 641.80 L727.21 637.00 L728.45 632.11 L729.72 627.12 L731.03 622.04 L732.36 616.85 L733.73 611.56 L735.14 606.15 L736.58 600.63 L738.06 594.99 L739.58 589.23 L741.14 583.33 L742.74 577.29 L744.39 571.11 L746.09 564.77 L747.84 558.28 L749.64 551.61 L751.50 544.77 L753.42 537.75 L755.40 530.52 L757.45 523.09 L759.56 515.44 L761.75 507.55 L764.02 499.42 L766.37 491.01 L768.80 482.33 L771.34 473.34 L773.97 464.03 L776.72 454.37 L779.58 444.33 L782.57 433.88 L785.69 422.99 L788.96 411.62 L792.38 399.73 L795.98 387.26 L799.76 374.16 L803.75 360.35 L807.96 345.76 L812.42 330.29 L817.15 313.84 L822.18 296.26 L827.55 277.40 L833.29 257.04 L839.43 234.93 L846.02 210.75 L853.09 184.06 L860.67 154.28 L868.74 120.60 L877.12 81.84 L885.35 36.20M762.52 641.80 L763.85 637.00 L765.21 632.11 L766.61 627.12 L768.04 622.04 L769.50 616.85 L771.01 611.56 L772.55 606.15 L774.14 600.63 L775.77 594.99 L777.44 589.23 L779.16 583.33 L780.93 577.29 L782.76 571.11 L784.64 564.77 L786.58 558.28 L788.57 551.61 L790.64 544.77 L792.77 537.75 L794.98 530.52 L797.26 523.09 L799.62 515.44 L802.07 507.55 L804.61 499.42 L807.25 491.01 L810.00 482.33 L812.86 473.34 L815.84 464.03 L818.95 454.37 L822.21 444.33 L825.61 433.88 L829.18 422.99 L832.94 411.62 L836.89 399.73 L841.06 387.26 L845.47 374.16 L850.15 360.35 L855.13 345.76 L860.43 330.29 L866.11 313.84 L872.21 296.26 L878.80 277.40 L885.94 257.04 L893.74 234.93 L902.30 210.75 L911.78 184.06 L922.37 154.28 L934.32 120.60 L947.98 81.84 L963.83 36.20" stroke="#2ca02c" stroke-width="1.6" stroke-opacity="0.3" stroke-dasharray="6.17 2.67"/>
<path d="M82.26 641.80 L85.68 637.11 L89.16 632.32 L92.71 627.45 L96.34 622.49 L100.03 617.42 L103.80 612.26 L107.66 606.99 L111.59 601.60 L115.62 596.11 L119.73 590.49 L123.94 584.75 L128.24 578.88 L132.66 572.87 L137.18 566.72 L141.81 560.42 L146.57 553.95 L151.45 547.33 L156.46 540.52 L161.62 533.54 L166.92 526.36 L172.38 518.97 L178.01 511.36 L183.81 503.52 L189.81 495.44 L196.00 487.09 L202.41 478.47 L209.04 469.55 L215.93 460.30 L223.07 450.71M132.50 641.80 L135.83 637.11 L139.22 632.32 L142.68 627.45 L146.21 622.49 L149.82 617.42 L153.50 612.26 L157.25 606.99 L161.09 601.60 L165.01 596.11 L169.02 590.49 L173.13 584.75 L177.33 578.88 L181.63 572.87 L186.04 566.72 L190.56 560.42 L195.20 553.95 L199.97 547.33 L204.86 540.52 L209.89 533.54 L215.07 526.36 L220.40 518.97 L225.90 511.36 L231.57 503.52 L237.42 495.44 L243.47 487.09 L249.73 478.47 L256.21 469.55 L262.94 460.30 L269.92 450.71M186.23 641.80 L189.46 637.11 L192.76 632.32 L196.12 627.45 L199.55 622.49 L203.05 617.42 L206.62 612.26 L210.27 606.99 L214.00 601.60 L217.81 596.11 L221.71 590.49 L225.70 584.75 L229.78 578.88 L233.96 572.87 L238.25 566.72 L242.65 560.42 L247.16 553.95 L251.80 547.33 L256.56 540.52 L261.45 533.54 L266.49 526.36 L271.68 518.97 L277.03 511.36 L282.55 503.52 L288.25 495.44 L294.14 487.09 L300.24 478.47 L306.56 469.55 L313.11 460.30 L319.92 450.71M219.42 641.80 L222.59 637.11 L225.82 632.32 L229.12 627.45 L232.48 622.49 L235.92 617.42 L239.42 612.26 L243.01 606.99 L246.67 601.60 L250.41 596.11 L254.23 590.49 L258.15 584.75 L262.16 578.88 L266.27 572.87 L270.48 566.72 L274.80 560.42 L279.23 553.95 L283.78 547.33 L288.46 540.52 L293.27 533.54 L298.22 526.36 L303.32 518.97 L308.58 511.36 L314.00 503.52 L319.60 495.44 L325.39 487.09 L331.39 478.47 L337.60 469.55 L344.04 460.30 L350.74 450.71M263.23 641.80 L266.32 637.11 L269.47 632.32 L272.68 627.45 L275.96 622.49 L279.30 617.42 L282.72 612.26 L286.21 606.99 L289.78 601.60 L293.42 596.11 L297.15 590.49 L300.97 584.75 L304.88 578.88 L308.89 572.87 L312.99 566.72 L317.21 560.42 L321.53 553.95 L325.97 547.33 L330.53 540.52 L335.23 533.54 L340.06 526.36 L345.04 518.97 L350.17 511.36 L355.46 503.52 L360.93 495.44 L366.59 487.09 L372.45 478.47 L378.51 469.55 L384.81 460.30 L391.35 450.71M299.70 641.80 L302.71 637.11 L305.79 632.32 L308.93 627.45 L312.13 622.49 L315.40 617.42 L318.74 612.26 L322.15 606.99 L325.64 601.60 L329.21 596.11 L332.86 590.49 L336.59 584.75 L340.41 578.88 L344.33 572.87 L348.35 566.72 L352.47 560.42 L356.70 553.95 L361.05 547.33 L365.52 540.52 L370.11 533.54 L374.84 526.36 L379.72 518.97 L384.74 511.36 L389.93 503.52 L395.29 495.44 L400.83 487.09 L406.56 478.47 L412.51 469.55 L418.68 460.30 L425.09 450.71M326.53 641.80 L329.49 637.11 L332.51 632.32 L335.60 627.45 L338.75 622.49 L341.96 617.42 L345.24 612.26 L348.59 606.99 L352.02 601.60 L355.53 596.11 L359.11 590.49 L362.79 584.75 L366.55 578.88 L370.40 572.87 L374.35 566.72 L378.40 560.42 L382.57 553.95 L386.84 547.33 L391.24 540.52 L395.76 533.54 L400.41 526.36 L405.21 518.97 L410.15 511.36 L415.26 503.52 L420.53 495.44 L425.99 487.09 L431.64 478.47 L437.49 469.55 L443.57 460.30 L449.89 450.71M365.76 641.80 L368.64 637.11 L371.59 632.32 L374.59 627.45 L377.65 622.49 L380.78 617.42 L383.98 612.26 L387.25 606.99 L390.58 601.60 L394.00 596.11 L397.49 590.49 L401.07 584.75 L404.74 578.88 L408.49 572.87 L412.35 566.72 L416.30 560.42 L420.36 553.95 L424.53 547.33 L428.81 540.52 L433.22 533.54 L437.77 526.36 L442.45 518.97 L447.27 511.36 L452.26 503.52 L457.41 495.44 L462.74 487.09 L468.25 478.47 L473.97 469.55 L479.91 460.30 L486.08 450.71M394.64 641.80 L397.47 637.11 L400.35 632.32 L403.29 627.45 L406.29 622.49 L409.36 617.42 L412.49 612.26 L415.69 606.99 L418.96 601.60 L422.31 596.11 L425.74 590.49 L429.24 584.75 L432.84 578.88 L436.52 572.87 L440.30 566.72 L444.18 560.42 L448.16 553.95 L452.25 547.33 L456.45 540.52 L460.78 533.54 L465.24 526.36 L469.83 518.97 L474.57 511.36 L479.46 503.52 L484.52 495.44 L489.75 487.09 L495.17 478.47 L500.79 469.55 L506.62 460.30 L512.69 450.71M436.88 641.80 L439.62 637.11 L442.41 632.32 L445.26 627.45 L448.17 622.49 L451.14 617.42 L454.18 612.26 L457.28 606.99 L460.45 601.60 L463.70 596.11 L467.02 590.49 L470.43 584.75 L473.91 578.88 L477.49 572.87 L481.16 566.72 L484.92 560.42 L488.78 553.95 L492.76 547.33 L496.84 540.52 L501.05 533.54 L505.38 526.36 L509.84 518.97 L514.45 511.36 L519.21 503.52 L524.13 495.44 L529.22 487.09 L534.49 478.47 L539.96 469.55 L545.63 460.30 L551.54 450.71M467.96 641.80 L470.64 637.11 L473.36 632.32 L476.14 627.45 L478.98 622.49 L481.88 617.42 L484.85 612.26 L487.88 606.99 L490.98 601.60 L494.15 596.11 L497.40 590.49 L500.72 584.75 L504.13 578.88 L507.62 572.87 L511.21 566.72 L514.88 560.42 L518.66 553.95 L522.55 547.33 L526.54 540.52 L530.66 533.54 L534.89 526.36 L539.26 518.97 L543.77 511.36 L548.43 503.52 L553.24 495.44 L558.22 487.09 L563.38 478.47 L568.74 469.55 L574.30 460.30 L580.08 450.71M492.73 641.80 L495.35 637.11 L498.02 632.32 L500.74 627.45 L503.53 622.49 L506.37 617.42 L509.28 612.26 L512.25 606.99 L515.29 601.60 L518.40 596.11 L521.58 590.49 L524.84 584.75 L528.19 578.88 L531.61 572.87 L535.13 566.72 L538.74 560.42 L542.45 553.95 L546.26 547.33 L550.19 540.52 L554.22 533.54 L558.39 526.36 L562.68 518.97 L567.10 511.36 L571.68 503.52 L576.41 495.44 L581.30 487.09 L586.38 478.47 L591.64 469.55 L597.11 460.30 L602.80 450.71M522.58 641.80 L525.13 637.11 L527.73 632.32 L530.39 627.45 L533.11 622.49 L535.88 617.42 L538.71 612.26 L541.61 606.99 L544.58 601.60 L547.61 596.11 L550.72 590.49 L553.91 584.75 L557.17 578.88 L560.52 572.87 L563.95 566.72 L567.48 560.42 L571.10 553.95 L574.83 547.33 L578.66 540.52 L582.61 533.54 L586.68 526.36 L590.87 518.97 L595.20 511.36 L599.68 503.52 L604.30 495.44 L609.09 487.09 L614.06 478.47 L619.21 469.55 L624.56 460.30 L630.13 450.71M546.75 641.80 L549.25 637.11 L551.80 632.32 L554.40 627.45 L557.06 622.49 L559.78 617.42 L562.56 612.26 L565.39 606.99 L568.30 601.60 L571.27 596.11 L574.32 590.49 L577.44 584.75 L580.64 578.88 L583.92 572.87 L587.29 566.72 L590.75 560.42 L594.30 553.95 L597.95 547.33 L601.71 540.52 L605.59 533.54 L609.58 526.36 L613.70 518.97 L617.95 511.36 L622.34 503.52 L626.88 495.44 L631.58 487.09 L636.46 478.47 L641.52 469.55 L646.78 460.30 L652.25 450.71M573.27 641.80 L575.71 637.11 L578.20 632.32 L580.74 627.45 L583.34 622.49 L585.99 617.42 L588.70 612.26 L591.47 606.99 L594.31 601.60 L597.22 596.11 L600.20 590.49 L603.24 584.75 L606.37 578.88 L609.58 572.87 L612.87 566.72 L616.25 560.42 L619.73 553.95 L623.31 547.33 L626.99 540.52 L630.77 533.54 L634.68 526.36 L638.71 518.97 L642.87 511.36 L647.17 503.52 L651.62 495.44 L656.23 487.09 L661.01 478.47 L665.97 469.55 L671.12 460.30 L676.49 450.71M600.33 641.80 L602.71 637.11 L605.13 632.32 L607.61 627.45 L610.14 622.49 L612.73 617.42 L615.37 612.26 L618.08 606.99 L620.85 601.60 L623.68 596.11 L626.59 590.49 L629.56 584.75 L632.62 578.88 L635.75 572.87 L638.96 566.72 L642.27 560.42 L645.66 553.95 L649.16 547.33 L652.75 540.52 L656.45 533.54 L660.27 526.36 L664.21 518.97 L668.28 511.36 L672.49 503.52 L676.84 495.44 L681.35 487.09 L686.03 478.47 L690.88 469.55 L695.93 460.30 L701.18 450.71M622.81 641.80 L625.14 637.11 L627.51 632.32 L629.93 627.45 L632.41 622.49 L634.94 617.42 L637.53 612.26 L640.18 606.99 L642.89 601.60 L645.67 596.11 L648.51 590.49 L651.43 584.75 L654.42 578.88 L657.48 572.87 L660.63 566.72 L663.87 560.42 L667.20 553.95 L670.62 547.33 L674.15 540.52 L677.78 533.54 L681.53 526.36 L685.39 518.97 L689.38 511.36 L693.51 503.52 L697.78 495.44 L702.21 487.09 L706.80 478.47 L711.57 469.55 L716.52 460.30 L721.68 450.71M645.61 641.80 L647.88 637.11 L650.20 632.32 L652.57 627.45 L654.99 622.49 L657.47 617.42 L660.00 612.26 L662.59 606.99 L665.24 601.60 L667.95 596.11 L670.73 590.49 L673.59 584.75 L676.51 578.88 L679.52 572.87 L682.60 566.72 L685.77 560.42 L689.03 553.95 L692.38 547.33 L695.83 540.52 L699.39 533.54 L703.06 526.36 L706.85 518.97 L710.76 511.36 L714.81 503.52 L719.00 495.44 L723.34 487.09 L727.84 478.47 L732.52 469.55 L737.38 460.30 L742.45 450.71M665.11 641.80 L667.34 637.11 L669.61 632.32 L671.93 627.45 L674.30 622.49 L676.73 617.42 L679.21 612.26 L681.75 606.99 L684.35 601.60 L687.01 596.11 L689.74 590.49 L692.54 584.75 L695.41 578.88 L698.35 572.87 L701.38 566.72 L704.49 560.42 L707.69 553.95 L710.98 547.33 L714.37 540.52 L717.87 533.54 L721.47 526.36 L725.19 518.97 L729.04 511.36 L733.01 503.52 L737.13 495.44 L741.40 487.09 L745.83 478.47 L750.42 469.55 L755.21 460.30 L760.19 450.71" stroke="#1e90ff" stroke-width="1.55" stroke-opacity="1" stroke-dasharray="1.55 2.87"/>
<g font-family="DejaVu Sans, Liberation Sans, sans-serif" font-weight="bold" font-size="13.1" text-anchor="middle" fill="#1e90ff" stroke="none">
<text transform="translate(222.6 439.6) rotate(-30)" dy="4.78">0.1</text>
<text transform="translate(269.4 439.6) rotate(-30)" dy="4.78">0.2</text>
<text transform="translate(319.4 439.6) rotate(-30)" dy="4.78">0.4</text>
<text transform="translate(350.2 439.6) rotate(-30)" dy="4.78">0.6</text>
<text transform="translate(390.9 443.1) rotate(-30)" dy="4.78">1</text>
<text transform="translate(424.6 439.6) rotate(-30)" dy="4.78">1.5</text>
<text transform="translate(449.4 443.1) rotate(-30)" dy="4.78">2</text>
<text transform="translate(485.6 443.1) rotate(-30)" dy="4.78">3</text>
<text transform="translate(512.2 443.1) rotate(-30)" dy="4.78">4</text>
<text transform="translate(551.0 443.1) rotate(-30)" dy="4.78">6</text>
<text transform="translate(579.6 443.1) rotate(-30)" dy="4.78">8</text>
<text transform="translate(602.3 440.8) rotate(-30)" dy="4.78">10</text>
<text transform="translate(629.6 440.8) rotate(-30)" dy="4.78">13</text>
<text transform="translate(651.8 440.8) rotate(-30)" dy="4.78">16</text>
<text transform="translate(676.0 440.8) rotate(-30)" dy="4.78">20</text>
<text transform="translate(700.7 440.8) rotate(-30)" dy="4.78">25</text>
<text transform="translate(721.2 440.8) rotate(-30)" dy="4.78">30</text>
<text transform="translate(741.9 440.8) rotate(-30)" dy="4.78">36</text>
<text transform="translate(758.7 440.8) rotate(-30)" dy="4.78">42</text>
</g>
<path d="M388.6 35.8C388.6 35.8 385.8 40.0 384.6 41.7C383.4 43.4 382.5 44.8 381.2 46.2C379.9 47.6 378.2 48.9 376.7 50.3C375.2 51.7 373.6 53.1 372.3 54.4C371.0 55.7 370.2 56.8 369.1 58.3C368.0 59.8 366.8 61.5 365.9 63.3C364.9 65.1 364.1 67.2 363.4 69.1C362.7 71.0 362.1 72.7 361.7 74.5C361.3 76.3 361.3 78.2 361.2 80.0C361.1 81.8 361.2 83.2 361.3 85.0C361.4 86.8 361.3 88.3 361.5 90.7C361.7 93.1 361.9 96.4 362.3 99.2C362.7 102.0 363.2 105.1 363.7 107.7C364.2 110.3 364.9 112.8 365.4 115.0C365.9 117.2 366.2 118.8 366.7 121.0C367.1 123.2 367.4 125.7 368.1 128.5C368.9 131.3 369.9 134.4 371.2 137.7C372.5 141.0 374.3 144.8 376.1 148.2C377.9 151.6 380.2 155.1 381.8 158.1C383.4 161.1 384.4 163.2 386.0 165.9C387.6 168.6 389.3 171.3 391.2 174.4C393.1 177.5 395.2 180.7 397.5 184.3C399.8 188.0 402.7 192.4 405.1 196.3C407.5 200.2 409.8 203.8 412.1 207.6C414.5 211.4 416.5 214.7 419.2 218.9C421.9 223.1 425.2 228.2 428.1 232.6C431.0 237.0 433.5 240.8 436.6 245.3C439.7 249.8 443.2 254.7 446.5 259.4C449.8 264.1 453.3 268.9 456.4 273.6C459.5 278.3 462.2 283.2 464.9 287.7C467.6 292.2 470.3 296.7 472.6 300.4C474.9 304.1 476.7 306.5 478.7 309.9C480.7 313.2 482.6 317.1 484.4 320.5C486.2 323.9 487.8 327.5 489.3 330.4C490.8 333.3 491.7 335.4 493.6 338.1C495.5 340.8 498.4 343.9 500.6 346.6C502.8 349.3 505.2 351.8 507.0 354.4C508.8 357.0 510.1 359.2 511.2 362.1C512.2 365.0 512.8 368.5 513.3 372.0C513.8 375.5 514.1 379.8 514.3 383.3C514.5 386.8 514.6 390.9 514.7 393.2C514.8 395.5 514.5 395.1 514.9 397.1C515.3 399.2 516.1 402.7 517.0 405.5C517.9 408.3 519.1 411.3 520.5 414.0C521.9 416.7 523.9 419.3 525.5 421.8C527.1 424.3 529.2 426.3 530.4 428.8C531.6 431.3 532.1 433.9 532.5 436.6C532.9 439.3 532.5 442.5 532.5 445.1C532.5 447.7 532.2 449.3 532.5 452.1C532.8 454.9 533.7 458.9 534.4 462.0C535.1 465.1 536.1 467.9 536.8 470.5C537.5 473.1 538.2 474.9 538.5 477.7C538.8 480.4 537.8 483.9 538.3 487.0C538.8 490.1 540.3 493.2 541.4 496.3C542.5 499.4 544.0 502.8 544.8 505.6C545.6 508.5 546.1 510.8 546.3 513.4C546.5 516.0 546.2 518.3 546.0 521.1C545.8 523.9 545.4 528.6 545.0 530.2C544.6 531.8 543.4 530.6 543.4 530.6C543.4 530.6 540.4 531.9 538.8 532.5C537.2 533.1 534.8 533.7 533.7 534.4C532.6 535.1 532.2 535.7 532.3 536.5C532.3 537.3 533.2 538.4 534.0 539.3C534.8 540.2 536.2 541.1 536.9 542.1C537.6 543.1 537.4 544.5 538.0 545.5C538.6 546.5 539.9 547.1 540.5 547.8C541.1 548.5 541.9 549.1 541.9 549.8C541.9 550.4 540.9 551.0 540.3 551.7C539.7 552.4 538.4 553.1 538.2 554.0C538.0 554.9 539.0 556.0 539.2 556.8C539.4 557.5 539.9 557.8 539.6 558.5C539.4 559.2 538.4 560.0 537.7 560.8C537.0 561.6 535.5 562.6 535.4 563.4C535.3 564.2 535.7 564.6 536.9 565.6C538.1 566.6 540.9 568.0 542.8 569.2C544.7 570.4 546.7 571.6 548.4 572.6C550.1 573.6 552.9 575.5 552.9 575.5C552.9 575.5 556.2 576.7 557.2 577.9C558.2 579.1 558.6 580.7 559.2 582.5C559.8 584.3 559.9 586.6 560.8 588.7C561.7 590.8 562.9 592.9 564.4 594.9C565.9 596.9 568.4 599.0 569.5 600.6C570.6 602.2 570.4 602.7 571.1 604.2C571.8 605.7 572.7 607.9 573.7 609.4C574.7 610.9 575.9 612.3 577.3 613.5C578.6 614.7 581.8 616.5 581.8 616.5" stroke="#ff0000" stroke-width="2.5" stroke-linejoin="round" stroke-linecap="butt"/>
<path d="M365.0 35.8C365.0 35.8 362.8 39.4 361.7 41.3C360.6 43.1 359.3 44.8 358.2 46.9C357.1 49.0 356.1 51.6 355.3 54.0C354.5 56.4 353.9 58.5 353.4 61.1C352.8 63.7 352.4 66.9 352.0 69.5C351.6 72.1 351.4 74.5 351.2 76.6C351.0 78.7 350.8 80.5 351.0 82.3C351.2 84.1 351.8 85.4 352.4 87.2C353.0 89.0 353.9 90.8 354.8 92.9C355.7 95.0 356.6 97.4 357.7 99.9C358.8 102.4 360.0 105.2 361.2 107.7C362.4 110.2 363.8 112.5 364.7 114.7C365.6 116.9 365.9 118.7 366.5 121.0C367.1 123.3 367.3 125.7 368.1 128.5C368.9 131.3 369.9 134.4 371.2 137.7C372.5 141.0 374.3 144.8 376.1 148.2C377.9 151.6 380.2 155.1 381.8 158.1C383.4 161.1 385.0 163.3 386.0 165.9C387.0 168.5 387.2 171.0 387.9 173.7C388.6 176.4 389.3 179.3 390.3 182.1C391.3 184.9 392.4 187.8 393.8 190.6C395.2 193.4 396.7 196.1 398.7 199.1C400.7 202.1 403.5 205.3 405.8 208.3C408.1 211.3 410.7 214.2 412.6 217.1C414.6 220.0 416.3 222.9 417.5 225.5C418.7 228.1 419.4 230.2 419.7 232.6C420.0 235.0 419.4 237.1 419.4 239.7C419.4 242.3 419.3 245.4 419.9 248.1C420.5 250.8 421.6 253.4 423.2 255.9C424.8 258.4 427.3 260.8 429.5 263.0C431.7 265.2 434.4 266.8 436.6 269.3C438.9 271.8 440.9 275.2 443.0 277.8C445.1 280.4 446.8 282.3 449.3 284.9C451.8 287.5 455.1 290.5 457.8 293.3C460.5 296.1 463.5 299.3 465.6 301.8C467.7 304.3 468.2 305.9 470.3 308.5C472.4 311.1 475.9 314.8 478.0 317.7C480.1 320.6 481.7 323.5 483.0 326.1C484.3 328.7 485.8 331.1 485.8 333.2C485.8 335.3 484.8 336.9 483.0 338.8C481.2 340.7 477.8 342.6 475.2 344.5C472.6 346.4 469.3 348.1 467.4 350.1C465.5 352.1 464.2 354.5 463.6 356.5C463.0 358.5 463.0 360.3 463.6 362.1C464.2 363.9 465.3 365.9 467.0 367.5C468.7 369.1 471.5 370.4 473.8 372.0C476.1 373.6 478.7 375.4 480.8 377.0C482.9 378.6 484.9 380.1 486.5 381.9C488.1 383.7 489.9 385.7 490.7 387.6C491.5 389.5 491.4 391.4 491.2 393.2C491.0 395.0 489.9 396.4 489.6 398.5C489.3 400.6 489.5 403.5 489.2 405.5C488.9 407.5 489.1 409.0 488.0 410.5C486.9 412.0 485.0 413.3 482.4 414.7C479.8 416.1 476.0 417.7 472.5 419.0C469.0 420.3 465.1 421.6 461.2 422.6C457.3 423.7 453.7 424.5 449.1 425.3C444.5 426.1 439.0 426.6 433.6 427.2C428.2 427.8 422.0 428.4 416.6 429.1C411.2 429.8 405.2 430.7 401.1 431.3C397.0 431.9 394.3 432.4 391.9 433.0C389.5 433.6 387.7 434.3 386.6 434.9C385.5 435.5 385.1 436.0 385.2 436.8C385.3 437.6 385.8 438.6 387.5 439.5C389.2 440.4 392.2 441.5 395.4 442.5C398.6 443.5 402.7 444.4 406.7 445.4C410.7 446.4 415.2 447.3 419.4 448.3C423.6 449.3 428.1 450.3 432.1 451.2C436.1 452.1 440.2 453.0 443.4 453.9C446.6 454.8 449.3 455.7 451.2 456.7C453.1 457.7 454.5 459.0 454.7 460.1C454.9 461.2 454.2 462.6 452.6 463.5C451.0 464.4 448.1 464.9 444.9 465.8C441.7 466.7 437.1 467.7 433.6 468.6C430.1 469.5 426.0 470.2 423.7 471.0C421.4 471.8 420.4 472.5 419.7 473.3C419.0 474.1 418.9 474.8 419.3 475.7C419.7 476.6 420.9 477.5 422.3 478.5C423.7 479.5 426.0 480.9 427.9 481.8C429.8 482.8 431.0 483.4 433.6 484.2C436.2 484.9 439.9 485.6 443.4 486.3C446.9 487.0 451.5 487.7 454.7 488.4C457.9 489.1 460.5 489.6 462.4 490.4C464.3 491.2 465.3 492.0 466.3 493.2C467.3 494.4 467.5 496.2 468.6 497.6C469.8 499.0 470.6 500.1 473.2 501.7C475.8 503.3 480.0 505.5 484.1 507.2C488.2 508.9 493.4 510.4 498.0 511.8C502.6 513.2 507.9 514.5 511.9 515.7C515.9 516.9 518.5 517.7 522.0 519.2C525.5 520.7 529.9 523.2 532.6 524.6C535.4 526.0 536.7 526.8 538.5 527.8C540.3 528.8 543.4 530.6 543.4 530.6C543.4 530.6 540.4 531.9 538.8 532.5C537.2 533.1 534.8 533.7 533.7 534.4C532.6 535.1 532.2 535.7 532.3 536.5C532.3 537.3 533.2 538.4 534.0 539.3C534.8 540.2 536.2 541.1 536.9 542.1C537.6 543.1 537.4 544.5 538.0 545.5C538.6 546.5 539.9 547.1 540.5 547.8C541.1 548.5 541.9 549.1 541.9 549.8C541.9 550.4 540.9 551.0 540.3 551.7C539.7 552.4 538.4 553.1 538.2 554.0C538.0 554.9 539.0 556.0 539.2 556.8C539.4 557.5 539.9 557.8 539.6 558.5C539.4 559.2 538.4 560.0 537.7 560.8C537.0 561.6 535.5 562.6 535.4 563.4C535.3 564.2 535.7 564.6 536.9 565.6C538.1 566.6 540.9 568.0 542.8 569.2C544.7 570.4 546.7 571.6 548.4 572.6C550.1 573.6 552.9 575.5 552.9 575.5C552.9 575.5 549.8 577.2 548.7 578.2C547.6 579.2 546.9 580.1 546.2 581.5C545.6 582.9 545.2 585.1 544.8 586.7C544.4 588.3 544.6 589.8 543.9 591.3C543.2 592.8 542.0 594.5 540.6 596.0C539.2 597.5 536.7 599.1 535.5 600.1C534.3 601.1 534.0 601.3 533.6 601.7C533.2 602.1 532.9 602.4 532.9 602.4C532.9 602.4 533.2 602.7 533.6 603.3C534.0 603.9 534.3 604.5 535.5 605.8C536.7 607.1 539.2 609.1 540.6 610.9C542.0 612.7 543.7 616.8 543.7 616.8" stroke="#008000" stroke-width="2.5" stroke-linejoin="round" stroke-linecap="butt"/>
<g font-family="DejaVu Sans, Liberation Sans, sans-serif" font-weight="bold" font-size="13.1" text-anchor="middle" stroke="none">
<text transform="translate(233.5 54.7) rotate(-45)" dy="4.78" fill="#1f77b4">-100</text>
<text transform="translate(258.1 103.8) rotate(-45)" dy="4.78" fill="#1f77b4">-90</text>
<text transform="translate(283.9 151.7) rotate(-45)" dy="4.78" fill="#1f77b4">-80</text>
<text transform="translate(311.7 197.5) rotate(-45)" dy="4.78" fill="#1f77b4">-70</text>
<text transform="translate(342.0 240.9) rotate(-45)" dy="4.78" fill="#1f77b4">-60</text>
<text transform="translate(374.7 281.9) rotate(-45)" dy="4.78" fill="#1f77b4">-50</text>
<text transform="translate(408.2 322.0) rotate(-45)" dy="4.78" fill="#1f77b4">-40</text>
<text transform="translate(444.3 359.6) rotate(-45)" dy="4.78" fill="#1f77b4">-30</text>
<text transform="translate(482.8 396.7) rotate(-45)" dy="4.78" fill="#1f77b4">-20</text>
<text transform="translate(519.8 431.5) rotate(-45)" dy="4.78" fill="#1f77b4">-10</text>
<text transform="translate(560.7 464.2) rotate(-45)" dy="4.78" fill="#7f7f7f">0</text>
<text transform="translate(600.4 498.2) rotate(-45)" dy="4.78" fill="#d62728">10</text>
<text transform="translate(643.1 529.1) rotate(-45)" dy="4.78" fill="#d62728">20</text>
<text transform="translate(687.5 558.4) rotate(-45)" dy="4.78" fill="#d62728">30</text>
<text transform="translate(731.0 588.6) rotate(-45)" dy="4.78" fill="#d62728">40</text>
</g>
</g>
<rect x="90.5" y="36.5" width="663" height="606" fill="none" stroke="#000" stroke-width="1.4"/>
<path d="M90 36.50h-5.9M90 215.50h-5.9M90 319.50h-5.9M90 393.50h-5.9M90 451.50h-5.9M90 498.50h-5.9M90 537.50h-5.9M90 572.50h-5.9M90 602.50h-5.9M90 629.50h-5.9M90.50 642.5v6.0M164.50 642.5v6.0M238.50 642.5v6.0M311.50 642.5v6.0M385.50 642.5v6.0M459.50 642.5v6.0M532.50 642.5v6.0M606.50 642.5v6.0M680.50 642.5v6.0M753.50 642.5v6.0" stroke="#000" stroke-width="1.25" fill="none"/>
<g font-family="DejaVu Sans, Liberation Sans, sans-serif" font-size="16.67" fill="#000">
<text x="77.8" y="44.0" text-anchor="end" font-size="17" letter-spacing="-0.9">100</text>
<text x="77.8" y="223.0" text-anchor="end" font-size="17" letter-spacing="-0.9">200</text>
<text x="77.8" y="327.0" text-anchor="end" font-size="17" letter-spacing="-0.9">300</text>
<text x="77.8" y="401.0" text-anchor="end" font-size="17" letter-spacing="-0.9">400</text>
<text x="77.8" y="459.0" text-anchor="end" font-size="17" letter-spacing="-0.9">500</text>
<text x="77.8" y="506.0" text-anchor="end" font-size="17" letter-spacing="-0.9">600</text>
<text x="77.8" y="545.0" text-anchor="end" font-size="17" letter-spacing="-0.9">700</text>
<text x="77.8" y="580.0" text-anchor="end" font-size="17" letter-spacing="-0.9">800</text>
<text x="77.8" y="610.0" text-anchor="end" font-size="17" letter-spacing="-0.9">900</text>
<text x="77.8" y="637.0" text-anchor="end" font-size="17" letter-spacing="-0.9">1000</text>
<text x="90.5" y="668" text-anchor="middle" font-size="17" letter-spacing="-0.9">−40</text>
<text x="164.1" y="668" text-anchor="middle" font-size="17" letter-spacing="-0.9">−30</text>
<text x="237.8" y="668" text-anchor="middle" font-size="17" letter-spacing="-0.9">−20</text>
<text x="311.4" y="668" text-anchor="middle" font-size="17" letter-spacing="-0.9">−10</text>
<text x="385.1" y="668" text-anchor="middle" font-size="17" letter-spacing="-0.9">0</text>
<text x="458.8" y="668" text-anchor="middle" font-size="17" letter-spacing="-0.9">10</text>
<text x="532.5" y="668" text-anchor="middle" font-size="17" letter-spacing="-0.9">20</text>
<text x="606.1" y="668" text-anchor="middle" font-size="17" letter-spacing="-0.9">30</text>
<text x="679.8" y="668" text-anchor="middle" font-size="17" letter-spacing="-0.9">40</text>
<text x="753.5" y="668" text-anchor="middle" font-size="17" letter-spacing="-0.9">50</text>
<text x="422.0" y="692.9" text-anchor="middle" font-size="17" letter-spacing="-0.18">Temperature (°C)</text>
<text transform="translate(25.3 340.3) rotate(-90)" text-anchor="middle" font-size="17" letter-spacing="-0.18">Pressure (hPa)</text>
<text x="422.4" y="27" text-anchor="middle" font-size="20">wetPf2_C2E1.2025.365.07.41.G13</text>
</g>
</svg>
</body></html>
